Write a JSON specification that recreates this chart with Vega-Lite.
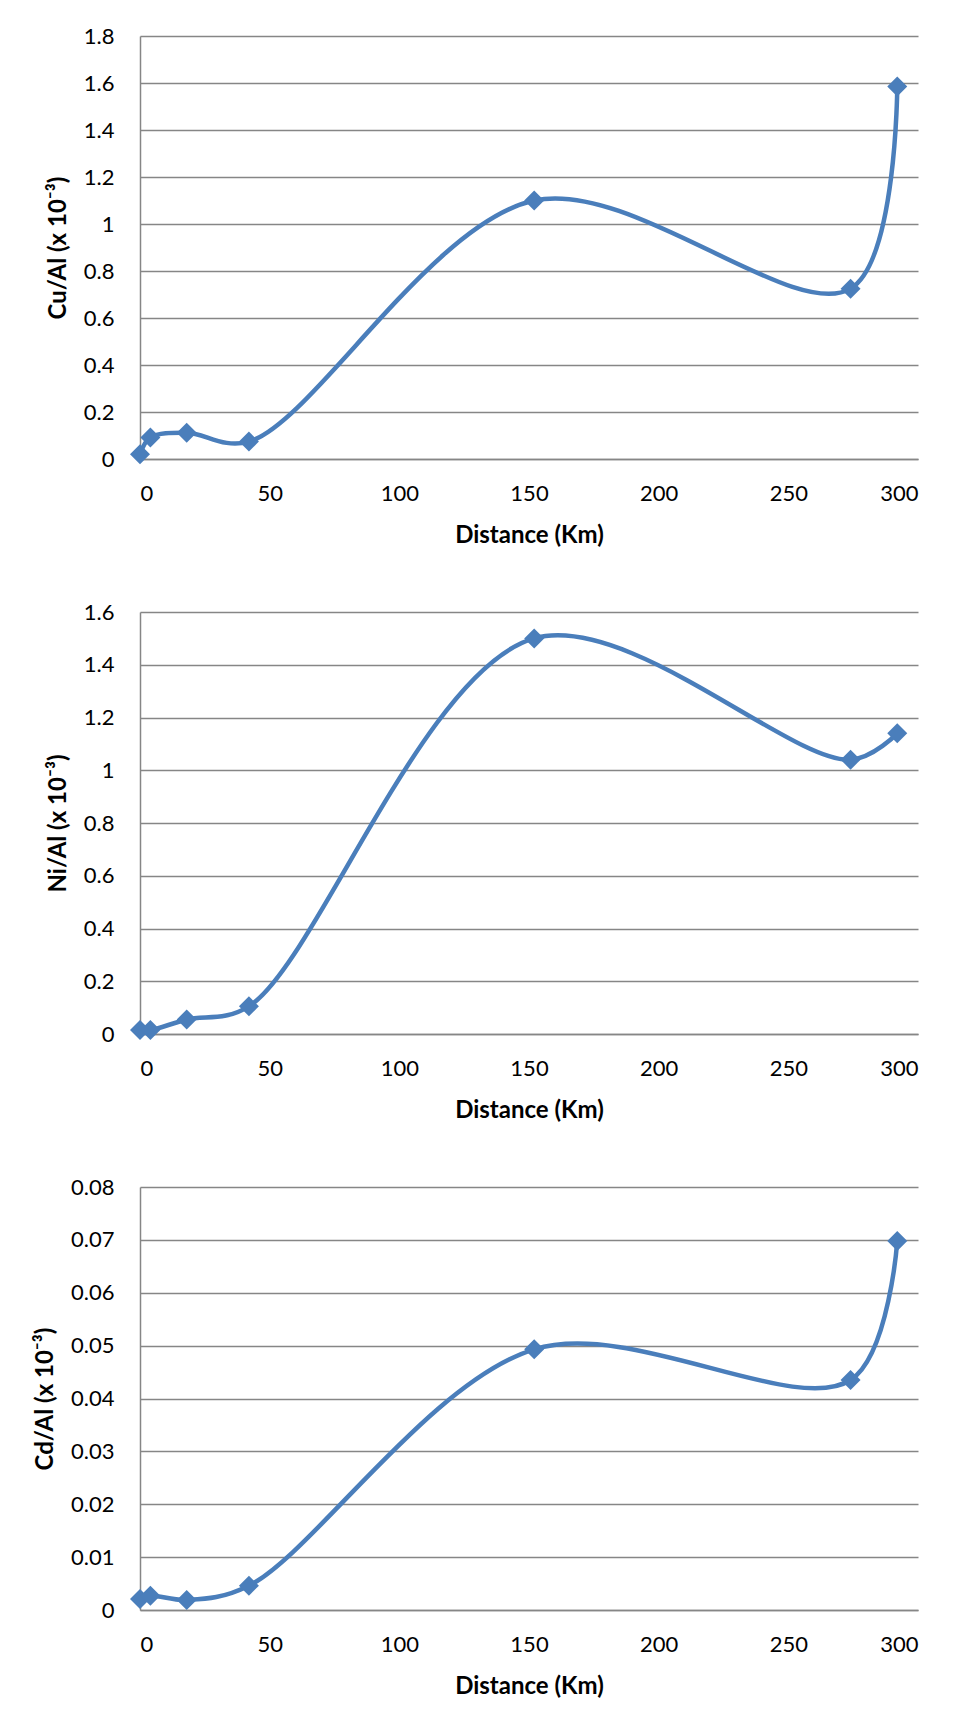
{
  "$schema": "https://vega.github.io/schema/vega-lite/v6.json",
  "datasets": {
    "cu": [
      {"distance": 0, "value": 0.02},
      {"distance": 4, "value": 0.092},
      {"distance": 18, "value": 0.112},
      {"distance": 42, "value": 0.074},
      {"distance": 152, "value": 1.10},
      {"distance": 274, "value": 0.725},
      {"distance": 292, "value": 1.585}
    ],
    "ni": [
      {"distance": 0, "value": 0.015},
      {"distance": 4, "value": 0.015},
      {"distance": 18, "value": 0.055},
      {"distance": 42, "value": 0.105},
      {"distance": 152, "value": 1.50},
      {"distance": 274, "value": 1.04},
      {"distance": 292, "value": 1.14}
    ],
    "cd": [
      {"distance": 0, "value": 0.0021},
      {"distance": 4, "value": 0.0027},
      {"distance": 18, "value": 0.0019},
      {"distance": 42, "value": 0.0046},
      {"distance": 152, "value": 0.0493},
      {"distance": 274, "value": 0.0435},
      {"distance": 292, "value": 0.0698}
    ]
  },
  "padding": {"left": 33, "top": 25, "right": 5, "bottom": 5},
  "columns": 1,
  "align": "none",
  "spacing": 54,
  "concat": [
    {
      "width": 778, "height": 423,
      "data": {"name": "cu"},
      "encoding": {
        "x": {"field": "distance", "type": "quantitative", "scale": {"domain": [0, 300], "nice": false},
              "axis": {"title": "Distance (Km)", "values": [0, 50, 100, 150, 200, 250, 300], "grid": false}},
        "y": {"field": "value", "type": "quantitative", "scale": {"domain": [0, 1.8], "nice": false},
              "axis": {"title": "Cu/Al (x 10⁻³)", "values": [0, 0.2, 0.4, 0.6, 0.8, 1, 1.2, 1.4, 1.6, 1.8], "format": "~g"}}
      },
      "layer": [
        {"mark": {"type": "line", "interpolate": "catmull-rom", "color": "#4A7EBB", "strokeWidth": 4.5}},
        {"mark": {"type": "point", "shape": "diamond", "filled": true, "size": 400, "color": "#4A7EBB", "opacity": 1}}
      ]
    },
    {
      "width": 778, "height": 422,
      "data": {"name": "ni"},
      "encoding": {
        "x": {"field": "distance", "type": "quantitative", "scale": {"domain": [0, 300], "nice": false},
              "axis": {"title": "Distance (Km)", "values": [0, 50, 100, 150, 200, 250, 300], "grid": false}},
        "y": {"field": "value", "type": "quantitative", "scale": {"domain": [0, 1.6], "nice": false},
              "axis": {"title": "Ni/Al (x 10⁻³)", "values": [0, 0.2, 0.4, 0.6, 0.8, 1, 1.2, 1.4, 1.6], "format": "~g"}}
      },
      "layer": [
        {"mark": {"type": "line", "interpolate": "catmull-rom", "color": "#4A7EBB", "strokeWidth": 4.5}},
        {"mark": {"type": "point", "shape": "diamond", "filled": true, "size": 400, "color": "#4A7EBB", "opacity": 1}}
      ]
    },
    {
      "width": 778, "height": 423,
      "data": {"name": "cd"},
      "encoding": {
        "x": {"field": "distance", "type": "quantitative", "scale": {"domain": [0, 300], "nice": false},
              "axis": {"title": "Distance (Km)", "values": [0, 50, 100, 150, 200, 250, 300], "grid": false}},
        "y": {"field": "value", "type": "quantitative", "scale": {"domain": [0, 0.08], "nice": false},
              "axis": {"title": "Cd/Al (x 10⁻³)", "values": [0, 0.01, 0.02, 0.03, 0.04, 0.05, 0.06, 0.07, 0.08], "format": "~g"}}
      },
      "layer": [
        {"mark": {"type": "line", "interpolate": "catmull-rom", "color": "#4A7EBB", "strokeWidth": 4.5}},
        {"mark": {"type": "point", "shape": "diamond", "filled": true, "size": 400, "color": "#4A7EBB", "opacity": 1}}
      ]
    }
  ],
  "config": {
    "background": "white",
    "view": {"stroke": null},
    "font": "Lato",
    "axis": {
      "labelFont": "Lato", "labelFontSize": 22, "labelColor": "#000000",
      "titleFont": "Lato", "titleFontSize": 24, "titleFontWeight": "bold", "titleColor": "#000000",
      "domainColor": "#868686", "domainWidth": 1.5,
      "gridColor": "#868686", "gridWidth": 1.5,
      "ticks": false
    },
    "axisX": {"labelPadding": 24, "titlePadding": 19},
    "axisY": {"labelPadding": 26, "titlePadding": 13}
  }
}
